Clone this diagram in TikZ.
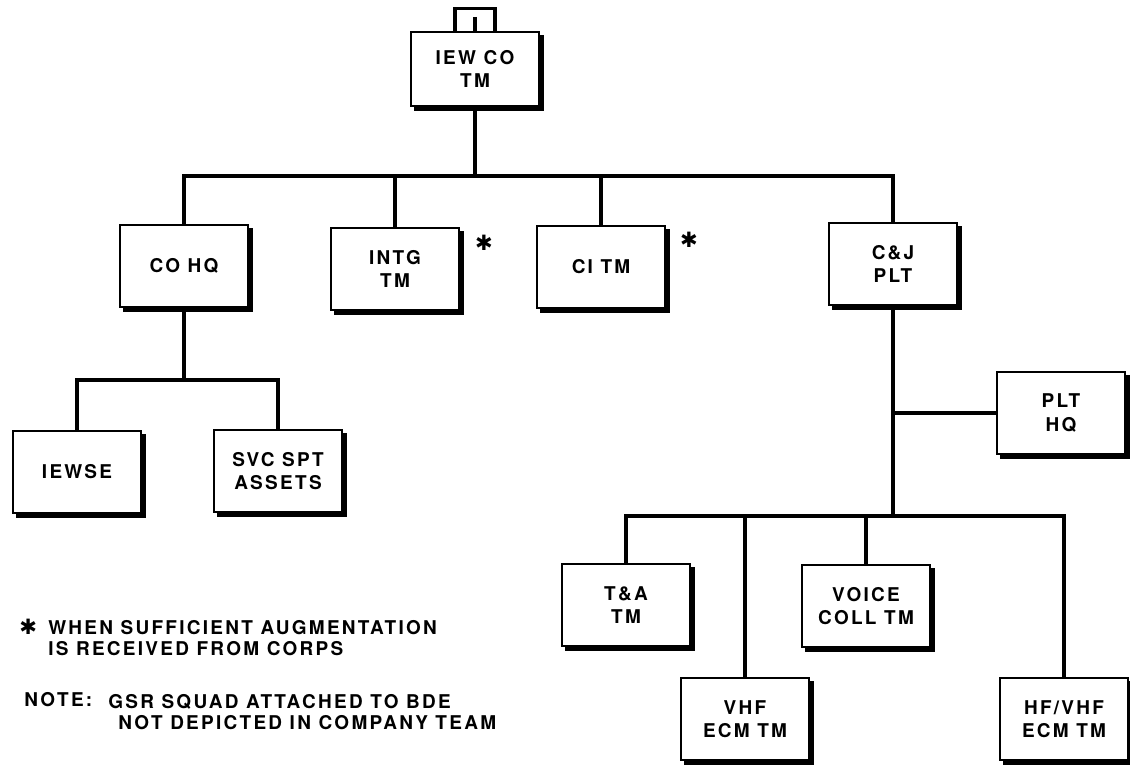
\documentclass[tikz,border=0pt]{standalone}
\usepackage{fontspec}
\setmainfont{TeX Gyre Heros}[LetterSpace=12]
\newfontfamily\symfont{DejaVu Sans}
\usetikzlibrary{shadows}

\begin{document}
\begin{tikzpicture}[
            x=0.025cm,
            y=-0.025cm,
            unit/.style={
                rectangle,
                draw,
                fill=white,
                line width=1.6pt,
                minimum width=3.2cm,
                minimum height=2.05cm,
                inner sep=0pt,
                align=center,
                font=\fontsize{13.5pt}{16.5pt}\selectfont\bfseries,
                general shadow={fill=black, draw=black, line width=1.6pt,
                    shadow xshift=3pt, shadow yshift=-3pt}
            },
            link/.style={
                line width=2.3pt
            },
            note/.style={
                inner sep=0pt,
                align=left,
                font=\fontsize{13.5pt}{15.5pt}\selectfont\bfseries
            },
            starmark/.style={
                inner sep=0pt,
                font=\symfont\fontsize{15pt}{15pt}\selectfont
            }
        ]

            \useasboundingbox (0, 0) rectangle (1130, 766);

            \node[unit, minimum height=1.85cm] (iew) at (475, 69) {IEW CO\\TM};

            \node[unit] (cohq) at (184, 266) {CO HQ};
            \node[unit] (intg) at (395, 269) {INTG\\TM};
            \node[unit] (ci) at (601, 267) {CI TM};
            \node[unit] (cj) at (893, 264) {C\&J\\PLT};

            \node[unit] (iewse) at (77, 472) {IEWSE};
            \node[unit] (svc) at (278, 471) {SVC SPT\\ASSETS};

            \node[unit] (plthq) at (1061, 413) {PLT\\HQ};

            \node[unit] (ta) at (626, 605) {T\&A\\TM};
            \node[unit] (voice) at (866, 606) {VOICE\\COLL TM};
            \node[unit] (vhf) at (745, 719) {VHF\\ECM TM};
            \node[unit] (hfvhf) at (1064, 719) {HF/VHF\\ECM TM};

            \node[starmark] (intgmark) at (484, 243) {✱};
            \node[starmark] (cimark) at (689, 240) {✱};

            \coordinate (topbus) at (475, 176);
            \coordinate (cobus) at (184, 380);
            \coordinate (pltbus) at (893, 516);

            \draw[link] ([xshift=-0.5cm]iew.north) |- ([xshift=0.5cm, yshift=0.55cm]iew.north)
                -- ([xshift=0.5cm]iew.north);
            \draw[link] ([yshift=0.35cm]iew.north) -- (iew.north);

            \draw[link] (iew.south) -- (topbus);
            \draw[link] (cohq.north) |- (topbus) -| (cj.north);
            \draw[link] (intg.north) -- (intg.north |- topbus);
            \draw[link] (ci.north) -- (ci.north |- topbus);

            \draw[link] (cohq.south) -- (cobus);
            \draw[link] (iewse.north) |- (cobus) -| (svc.north);

            \draw[link] (cj.south) -- (pltbus);
            \draw[link] (plthq.west) -- (plthq.west -| cj.south);
            \draw[link] (ta.north) |- (pltbus) -| (hfvhf.north);
            \draw[link] (vhf.north) -- (vhf.north |- pltbus);
            \draw[link] (voice.north) -- (voice.north |- pltbus);

            \node[starmark, anchor=west] (star) at (19, 627) {✱};
            \node[note, anchor=west] (augment) at (48, 638)
                {WHEN SUFFICIENT AUGMENTATION\\IS RECEIVED FROM CORPS};

            \node[note, anchor=west] (notehead) at (24, 700) {NOTE:};
            \node[note, anchor=west] (gsr) at (108, 712)
                {GSR SQUAD ATTACHED TO BDE\\\hspace*{0.25cm}NOT DEPICTED IN COMPANY TEAM};

        \end{tikzpicture}
\end{document}
